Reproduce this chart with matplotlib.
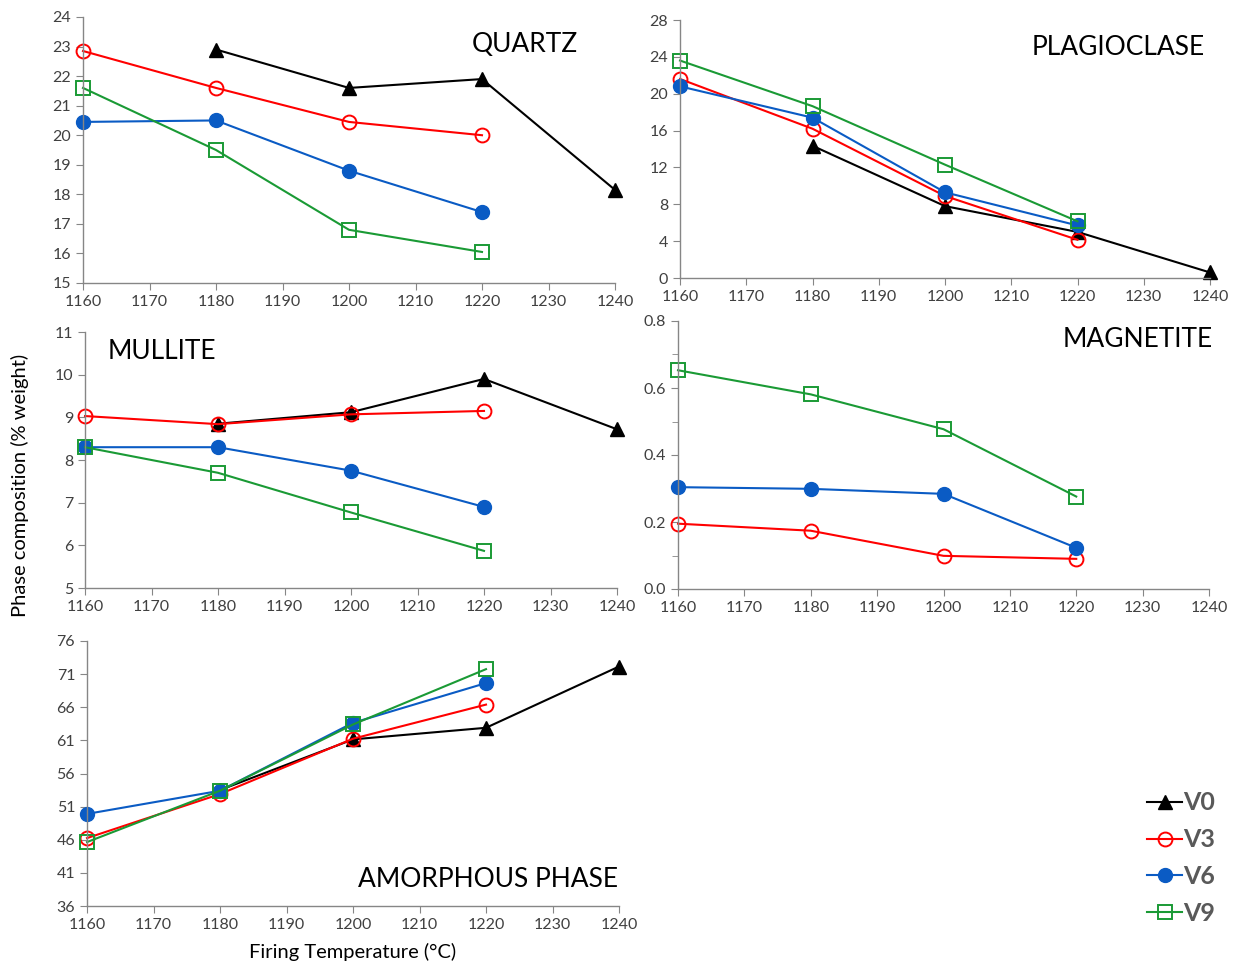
import matplotlib.pyplot as plt
import numpy as np

plt.rcParams['font.family'] = ['Lato', 'DejaVu Sans']

temps = [1160, 1180, 1200, 1220, 1240]
series = ["V0", "V3", "V6", "V9"]

# phase values per series, None where there is no point
quartz = {
    "V0": [None, 22.9, 21.6, 21.9, 18.15],
    "V3": [22.85, 21.6, 20.45, 20.0, None],
    "V6": [20.45, 20.5, 18.8, 17.4, None],
    "V9": [21.6, 19.5, 16.8, 16.05, None],
}
plagioclase = {
    "V0": [None, 14.35, 7.8, 5.0, 0.6],
    "V3": [21.6, 16.2, 8.9, 4.15, None],
    "V6": [20.8, 17.4, 9.3, 5.7, None],
    "V9": [23.6, 18.65, 12.3, 6.15, None],
}
mullite = {
    "V0": [None, 8.85, 9.12, 9.9, 8.72],
    "V3": [9.03, 8.84, 9.07, 9.15, None],
    "V6": [8.3, 8.3, 7.75, 6.9, None],
    "V9": [8.3, 7.7, 6.77, 5.87, None],
}
magnetite = {
    "V3": [0.195, 0.174, 0.099, 0.09, None],
    "V6": [0.304, 0.299, 0.284, 0.123, None],
    "V9": [0.653, 0.581, 0.477, 0.276, None],
}
amorphous = {
    "V0": [None, 53.5, 61.15, 62.9, 72.15],
    "V3": [46.25, 52.9, 61.25, 66.4, None],
    "V6": [49.9, 53.4, 63.65, 69.65, None],
    "V9": [45.65, 53.4, 63.4, 71.75, None],
}

styles = {
    "V0": dict(color="black", marker="^", mfc="black", ms=10),
    "V3": dict(color="#FF0000", marker="o", mfc="none", ms=10, mew=1.4),
    "V6": dict(color="#0A5BC4", marker="o", mfc="#0A5BC4", ms=10),
    "V9": dict(color="#1A9A35", marker="s", mfc="none", ms=10, mew=1.4),
}

W, H = 1235, 968
fig = plt.figure(figsize=(W / 100, H / 100), dpi=100)


def make_ax(x0, x1, ytop, ybot):
    return fig.add_axes([x0 / W, 1 - ybot / H, (x1 - x0) / W, (ybot - ytop) / H])


def draw(ax, data, ylim, ystep, title, tx, ty, ha, minor=None, fmt=None):
    for s in series:
        if s not in data:
            continue
        x = [t for t, v in zip(temps, data[s]) if v is not None]
        y = [v for v in data[s] if v is not None]
        ax.plot(x, y, lw=1.5, label=s, **styles[s])
    ax.set_xlim(1160, 1240)
    ax.set_ylim(*ylim)
    ax.set_xticks(np.arange(1160, 1241, 10))
    ax.set_yticks(np.arange(ylim[0], ylim[1] + ystep / 2, ystep))
    if minor:
        ax.set_yticks(np.arange(ylim[0], ylim[1] + minor / 2, minor), minor=True)
    if fmt:
        ax.yaxis.set_major_formatter(plt.FormatStrFormatter(fmt))
    for sp in ["top", "right"]:
        ax.spines[sp].set_visible(False)
    for sp in ["left", "bottom"]:
        ax.spines[sp].set_color("#868686")
        ax.spines[sp].set_linewidth(1.0)
    ax.tick_params(axis="both", which="both", direction="out", color="#868686",
                   labelcolor="#404040", labelsize=11.5, length=5)
    ax.tick_params(axis="y", which="minor", length=4)
    ax.text(tx, ty, title, transform=ax.transAxes, ha=ha, va="center",
            fontsize=19, color="black")
    for line in ax.lines:
        line.set_clip_on(False)


ax1 = make_ax(83, 615, 17, 283)
draw(ax1, quartz, (15, 24), 1, "QUARTZ", 0.93, 0.895, "right")

ax2 = make_ax(680, 1210, 20, 278)
draw(ax2, plagioclase, (0, 28), 4, "PLAGIOCLASE", 0.99, 0.895, "right")

ax3 = make_ax(85, 617, 332, 588)
draw(ax3, mullite, (5, 11), 1, "MULLITE", 0.043, 0.925, "left")

ax4 = make_ax(678, 1209, 321, 589)
draw(ax4, magnetite, (0, 0.8), 0.2, "MAGNETITE", 1.007, 0.93, "right",
     minor=0.1, fmt="%.1f")

ax5 = make_ax(87, 619, 641, 906)
draw(ax5, amorphous, (36, 76), 5, "AMORPHOUS PHASE", 0.998, 0.10, "right")

ax5.set_xlabel("Firing Temperature (°C)", fontsize=14.5, color="black", labelpad=8)
fig.text(20 / W, 1 - 485 / H, "Phase composition (% weight)", rotation=90,
         ha="center", va="center", fontsize=14.5, color="black")

handles, labels = ax1.get_legend_handles_labels()
fig.legend(handles, labels, loc="upper right", bbox_to_anchor=(1238 / W, 1 - 769 / H),
           frameon=False, handlelength=1.4, handletextpad=0.05, labelspacing=0.55,
           prop={"size": 18, "weight": "bold"}, labelcolor="#595959")

fig.savefig("out.png", dpi=100)
